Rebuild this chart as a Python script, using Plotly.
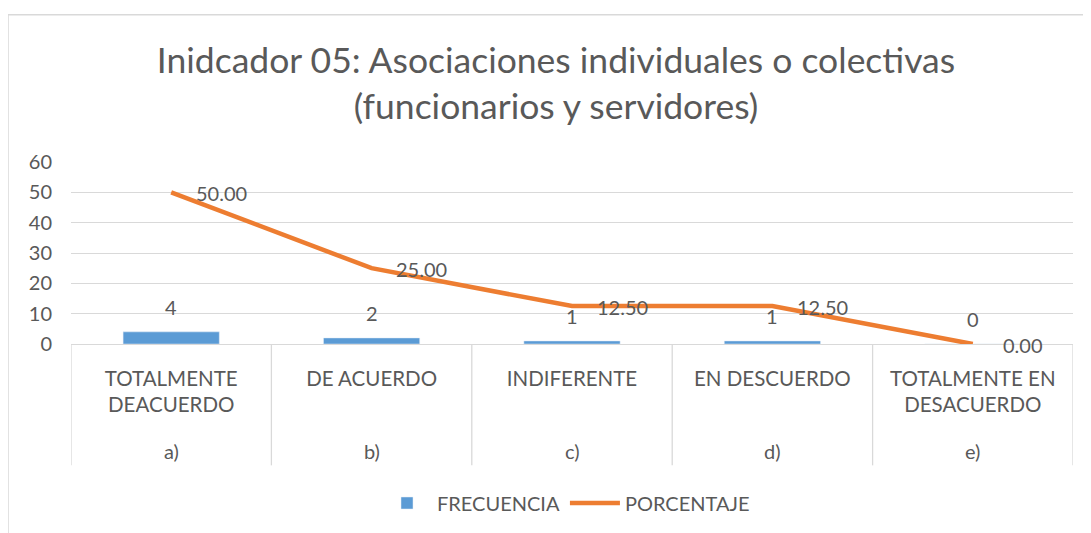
import plotly.graph_objects as go

categories = ["TOTALMENTE<br>DEACUERDO", "DE ACUERDO", "INDIFERENTE", "EN DESCUERDO", "TOTALMENTE EN<br>DESACUERDO"]
letters = ["a)", "b)", "c)", "d)", "e)"]
frecuencia = [4, 2, 1, 1, 0]
porcentaje = [50.00, 25.00, 12.50, 12.50, 0.00]
y_ticks = [0, 10, 20, 30, 40, 50, 60]

OFF = 8  # page body margin; figure starts at (8, 8) in the page
W, H = 1091 - OFF, 533 - OFF
# plot area in page pixels
L, R, T, B = 71, 1073, 162, 345

TXT = "#595959"
GRID = "#d9d9d9"
FONT = "Lato"

xs = list(range(len(categories)))

fig = go.Figure()
fig.add_trace(go.Bar(
    x=xs, y=frecuencia, name="FRECUENCIA", marker_color="#5b9bd5",
    width=0.48, hoverinfo="skip",
))
fig.add_trace(go.Scatter(
    x=xs, y=porcentaje, name="PORCENTAJE", mode="lines",
    line=dict(color="#ed7d31", width=4.5), hoverinfo="skip",
))

ann = []
for i, v in enumerate(frecuencia):
    ann.append(dict(x=i, y=v, xref="x", yref="y", text=str(v), showarrow=False,
                    yshift=25, yanchor="middle", font=dict(size=20, color=TXT, family=FONT)))
for i, v in enumerate(porcentaje):
    ann.append(dict(x=i, y=v, xref="x", yref="y", text=f"{v:.2f}", showarrow=False,
                    xshift=50, yshift=-1, yanchor="middle", font=dict(size=20, color=TXT, family=FONT)))
ph = B - T
pw = R - L
for i, s in enumerate(letters):
    ann.append(dict(x=i, y=(B - 453) / ph, xref="x", yref="paper", text=s, showarrow=False,
                    yanchor="middle", font=dict(size=20, color=TXT, family=FONT)))

shapes = []
for k in range(len(categories) + 1):
    shapes.append(dict(type="line", xref="x", yref="paper", x0=k - 0.5, x1=k - 0.5,
                       y0=0, y1=(B - 467) / ph, line=dict(color=GRID, width=1.3)))
# chart-area border (left and top edges visible)
shapes.append(dict(type="line", xref="paper", yref="paper",
                   x0=(8 - L) / pw, x1=(8 - L) / pw, y0=(B - 14) / ph, y1=(B - 540) / ph,
                   line=dict(color=GRID, width=1.5)))
shapes.append(dict(type="line", xref="paper", yref="paper",
                   x0=(8 - L) / pw, x1=(1100 - L) / pw, y0=(B - 14) / ph, y1=(B - 14) / ph,
                   line=dict(color=GRID, width=1.5)))

fig.update_layout(
    width=W, height=H,
    margin=dict(l=L - OFF, r=W - (R - OFF), t=T - OFF, b=H - (B - OFF), pad=0),
    paper_bgcolor="white", plot_bgcolor="white",
    font=dict(family=FONT, color=TXT, size=20),
    title=dict(text="Inidcador 05: Asociaciones individuales o colectivas<br>(funcionarios y servidores)",
               x=(556 - OFF) / W, xanchor="center", y=1 - (73 - OFF) / H, yanchor="middle",
               xref="container", yref="container",
               font=dict(size=35.5, color=TXT, family=FONT)),
    xaxis=dict(tickmode="array", tickvals=xs, ticktext=categories, range=[-0.5, len(categories) - 0.5],
               showgrid=False, zeroline=False, showline=True, linecolor=GRID, linewidth=1.3,
               ticks="", ticklabelstandoff=16, tickfont=dict(size=20.5, color=TXT, family=FONT),
               fixedrange=True),
    yaxis=dict(range=[0, 60], tickvals=y_ticks, showgrid=True, gridcolor=GRID, gridwidth=1.3,
               zeroline=False, showline=False, ticks="", ticklabelstandoff=18,
               tickfont=dict(size=20, color=TXT, family=FONT), fixedrange=True),
    legend=dict(orientation="h", x=(566 - L) / pw, xanchor="center", y=(B - 503) / ph, yanchor="middle",
                font=dict(size=20, color=TXT, family=FONT), itemwidth=50, tracegroupgap=0),
    bargap=0.52,
    annotations=ann, shapes=shapes,
)

fig.write_html("out.html")
